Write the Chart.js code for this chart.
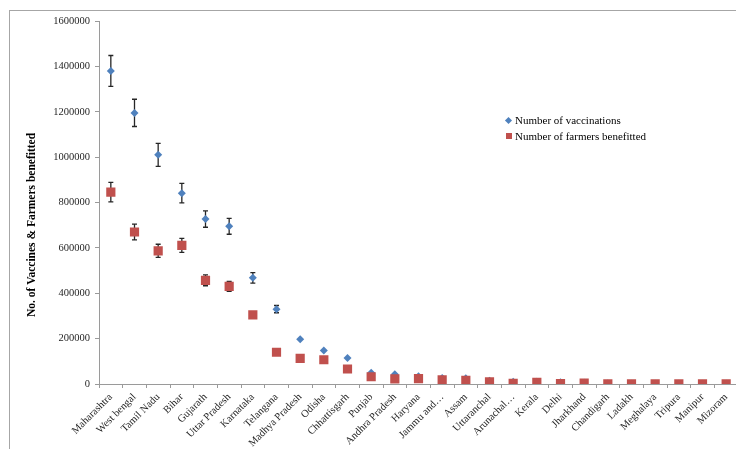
<!DOCTYPE html>
<html>
<head>
<meta charset="utf-8">
<script src="https://cdn.jsdelivr.net/npm/chart.js@4/dist/chart.umd.min.js"></script>
<style>
    html, body { margin: 0; padding: 0; background: #fff; overflow: hidden; }
    body { width: 736px; height: 449px; position: relative; }
    #frame { position: absolute; left: 9px; top: 10px; width: 800px; height: 500px; border: 1px solid #a6a6a6; box-sizing: border-box; }
    #wrap { position: absolute; left: 0; top: 0; width: 760px; height: 449px; }
    #legend { position: absolute; left: 504px; top: 112px; font-family: "Liberation Serif", serif; font-size: 11px; color: #000; line-height: 16px; }
    #legend div { display: flex; align-items: center; }
    .mk { display: inline-block; margin-right: 3px; }
    .diamond { width: 5px; height: 5px; background: #4F81BD; transform: rotate(45deg); margin-left: 2px; margin-right: 4px; }
    .square { width: 6px; height: 6px; background: #C0504D; margin-left: 2px; }
</style>
</head>
<body>
<div id="frame"></div>
<div id="wrap"><canvas id="chart" width="760" height="449"></canvas></div>
<div id="legend">
    <div><span class="mk diamond"></span>Number of vaccinations</div>
    <div><span class="mk square"></span>Number of farmers benefitted</div>
</div>
<script>
// datos
const states = ['Maharashtra', 'West bengal', 'Tamil Nadu', 'Bihar', 'Gujarath', 'Uttar Pradesh',
    'Karnataka', 'Telangana', 'Madhya Pradesh', 'Odisha', 'Chhattisgarh', 'Punjab', 'Andhra Pradesh',
    'Haryana', 'Jammu and…', 'Assam', 'Uttaranchal', 'Arunachal…', 'Kerala', 'Delhi', 'Jharkhand',
    'Chandigarh', 'Ladakh', 'Meghalaya', 'Tripura', 'Manipur', 'Mizoram'];

const vaccinations = [1380000, 1195000, 1010000, 841000, 727000, 695000, 468000, 330000, 197000,
    148000, 115000, 50000, 43000, 34000, 26000, 25000, 14000, 10000, 10000, 8000, 5000,
    2000, 1500, 1500, 1500, 1000, 1000];
const vaccErr = [68000, 60000, 51000, 43000, 36000, 35000, 23000, 16000, 0, 0, 0, 0, 0, 0,
    0, 0, 0, 0, 0, 0, 0, 0, 0, 0, 0, 0, 0];

const farmers = [846000, 670000, 587000, 611000, 457000, 430000, 305000, 140000, 113000,
    107000, 66000, 32000, 23000, 24000, 18000, 16000, 9000, 3000, 7000, 2000, 4000,
    1000, 1000, 1000, 1000, 1000, 1000];
const farmerErr = [43000, 35000, 29000, 31000, 24000, 22000, 13000, 0, 0, 0, 0, 0, 0, 0,
    0, 0, 0, 0, 0, 0, 0, 0, 0, 0, 0, 0, 0];

const yTicks = [0, 200000, 400000, 600000, 800000, 1000000, 1200000, 1400000, 1600000];
const yTitle = 'No. of Vaccines & Farmers benefitted';

const serif = '"Liberation Serif", "Times New Roman", serif';

// barras de error, dibujadas antes de los puntos
const errorBars = {
    id: 'errorBars',
    beforeDatasetsDraw(chart) {
        const ctx = chart.ctx;
        const y = chart.scales.y;
        chart.data.datasets.forEach((ds, di) => {
            const meta = chart.getDatasetMeta(di);
            meta.data.forEach((pt, i) => {
                const e = ds.errors[i];
                if (!e) return;
                const top = y.getPixelForValue(ds.data[i] + e);
                const bot = y.getPixelForValue(ds.data[i] - e);
                ctx.save();
                ctx.strokeStyle = '#262626';
                ctx.lineWidth = 1.3;
                ctx.beginPath();
                ctx.moveTo(pt.x, top); ctx.lineTo(pt.x, bot);
                ctx.moveTo(pt.x - 2.5, top); ctx.lineTo(pt.x + 2.5, top);
                ctx.moveTo(pt.x - 2.5, bot); ctx.lineTo(pt.x + 2.5, bot);
                ctx.stroke();
                ctx.restore();
            });
        });
    }
};

// titulo del eje Y
const axisTitle = {
    id: 'axisTitle',
    afterDraw(chart) {
        const ctx = chart.ctx;
        ctx.save();
        ctx.translate(32, 225);
        ctx.rotate(-Math.PI / 2);
        ctx.font = 'bold 11.5px ' + serif;
        ctx.fillStyle = '#000';
        ctx.textAlign = 'center';
        ctx.textBaseline = 'middle';
        ctx.fillText(yTitle, 0, 0);
        ctx.restore();
    }
};

new Chart(document.getElementById('chart'), {
    type: 'line',
    data: {
        labels: states,
        datasets: [{
            label: 'Number of vaccinations',
            data: vaccinations,
            errors: vaccErr,
            showLine: false,
            pointStyle: 'rectRot',
            pointRadius: 4,
            pointHoverRadius: 4,
            backgroundColor: '#4F81BD',
            borderColor: '#4F81BD',
            borderWidth: 0,
            order: 1
        }, {
            label: 'Number of farmers benefitted',
            data: farmers,
            errors: farmerErr,
            showLine: false,
            pointStyle: 'rect',
            pointRadius: 6.5,
            pointHoverRadius: 6.5,
            backgroundColor: '#C0504D',
            borderColor: '#C0504D',
            borderWidth: 0,
            order: 0
        }]
    },
    options: {
        responsive: false,
        animation: false,
        layout: { padding: { left: 0, top: 21, right: 22, bottom: 0 } },
        plugins: { legend: { display: false }, tooltip: { enabled: false } },
        scales: {
            x: {
                offset: true,
                grid: { offset: true, drawOnChartArea: false, tickLength: 4, color: '#9a9a9a' },
                border: { color: '#9a9a9a' },
                ticks: {
                    autoSkip: false, maxRotation: 45, minRotation: 45, padding: 3,
                    color: '#262626', font: { family: serif, size: 10.5 }
                },
                afterFit(scale) { scale.height = 65; }
            },
            y: {
                min: 0,
                max: 1600000,
                afterBuildTicks(scale) { scale.ticks = yTicks.map(v => ({ value: v })); },
                grid: { drawOnChartArea: false, tickLength: 4, color: '#9a9a9a' },
                border: { color: '#9a9a9a' },
                ticks: {
                    padding: 5, color: '#262626', font: { family: serif, size: 10.5 },
                    callback: v => String(v)
                },
                afterFit(scale) { scale.width = 99; }
            }
        }
    },
    plugins: [errorBars, axisTitle]
});
</script>
</body>
</html>
